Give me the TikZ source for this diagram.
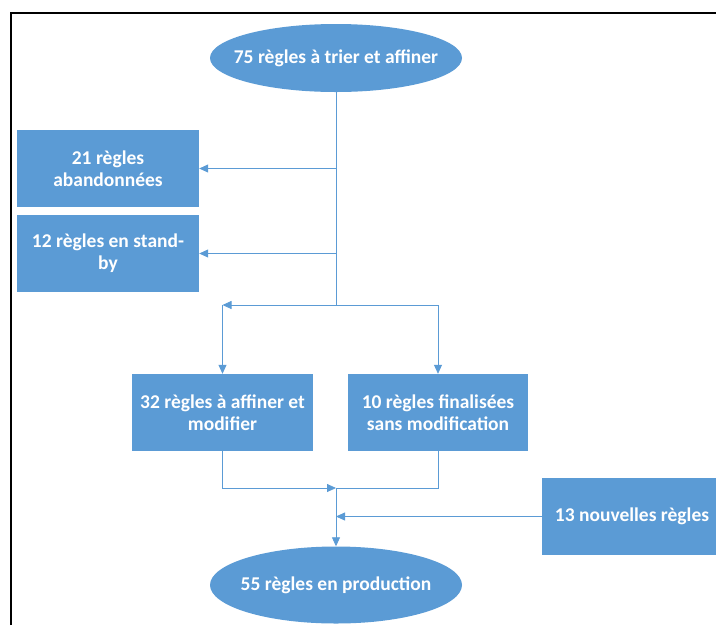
\documentclass[tikz,border=0pt]{standalone}
\usepackage{fontspec}
\setmainfont{Carlito}
\usetikzlibrary{shapes.geometric,arrows.meta}
\definecolor{officeblue}{HTML}{5B9BD5}
\begin{document}
\begin{tikzpicture}[x=1pt,y=-1pt,
    rulebox/.style={rectangle,fill=officeblue,text=white,font=\bfseries\fontsize{19.5}{22}\selectfont,
        align=center,minimum width=182pt,minimum height=77pt,inner sep=2pt},
    ruleoval/.style={ellipse,fill=officeblue,text=white,font=\bfseries\fontsize{19.5}{22}\selectfont,
        minimum width=252pt,inner xsep=-18pt,inner ysep=0pt},
    flow/.style={officeblue,line width=0.8pt},
    arr/.style={flow,-{Triangle[length=9pt,width=8pt]}}]
    \useasboundingbox (0,0) rectangle (716,625);
    % frame of the screenshot
    \draw[black,line width=1.6pt] (11,625) -- (11,13) -- (716,13);
    % start and end ovals
    \node[ruleoval,minimum height=68pt] (start) at (336,58) {75 règles à trier et affiner};
    \node[ruleoval,minimum height=77pt] (prod) at (336,585) {55 règles en production};
    % rules taken out on the left
    \node[rulebox] (aband) at (108,168.5) {21 règles\\abandonnées};
    \node[rulebox] (standby) at (108,253.5) {12 règles en stand-\\by};
    % the two kept groups
    \node[rulebox,minimum width=181pt] (affiner) at (222.5,412.5) {32 règles à affiner et\\modifier};
    \node[rulebox,minimum width=180pt] (final) at (438,412.5) {10 règles finalisées\\sans modification};
    % new rules coming in from the right
    \node[rulebox,minimum width=180pt] (nouv) at (632,516.5) {13 nouvelles règles};
    % junction points
    \coordinate (split) at (336,305);
    \coordinate (merge) at (336,488);
    % trunk and side outputs
    \draw[flow] (start.south) -- (split);
    \draw[arr] (split |- aband.east) -- (aband.east);
    \draw[arr] (split |- standby.east) -- (standby.east);
    % split into the two groups
    \draw[arr] (split) -- (affiner.north |- split);
    \draw[arr] (affiner.north |- split) -- (affiner.north);
    \draw[arr] (split) -- (final.north |- split) -- (final.north);
    % merge towards production
    \draw[arr] (affiner.south) -- (affiner.south |- merge) -- (merge);
    \draw[flow] (final.south) -- (final.south |- merge) -- (merge);
    \draw[arr] (nouv.west) -- (merge |- nouv.west);
    \draw[arr] (merge) -- (prod.north);
\end{tikzpicture}
\end{document}
